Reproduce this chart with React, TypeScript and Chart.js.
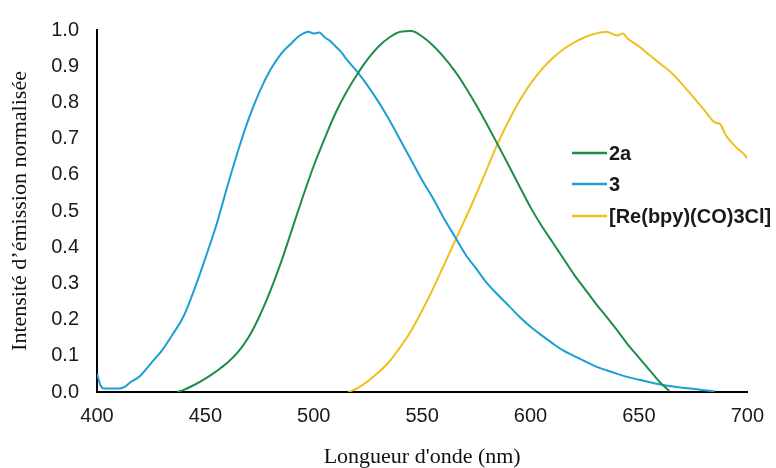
import React, { useEffect, useRef } from "react";
import { Chart, registerables } from "chart.js";

Chart.register(...registerables);

// Series "3" (blue)
const wave3 = [400, 401.5, 403, 405, 410, 413, 415, 420, 425, 430, 435, 440, 445, 450, 455, 460, 465, 470, 475, 480, 485, 490, 492.5, 495, 497.5, 500, 502.5, 505, 507.5, 510, 512.5, 515, 520, 525, 530, 535, 540, 545, 550, 555, 560, 565, 570, 575, 580, 585, 590, 595, 600, 605, 610, 615, 620, 625, 630, 635, 640, 645, 650, 655, 660, 665, 670, 675, 680, 685];
const val3 = [0.05, 0.02, 0.01, 0.01, 0.01, 0.015, 0.025, 0.045, 0.08, 0.115, 0.16, 0.21, 0.285, 0.37, 0.46, 0.565, 0.665, 0.755, 0.83, 0.89, 0.935, 0.965, 0.98, 0.99, 0.995, 0.99, 0.993, 0.98, 0.97, 0.955, 0.94, 0.92, 0.885, 0.845, 0.8, 0.75, 0.695, 0.64, 0.585, 0.535, 0.48, 0.43, 0.38, 0.34, 0.3, 0.268, 0.238, 0.207, 0.18, 0.157, 0.135, 0.115, 0.1, 0.085, 0.071, 0.06, 0.05, 0.041, 0.034, 0.027, 0.021, 0.016, 0.012, 0.009, 0.005, 0.002];

// Series "2a" (green)
const wave2a = [437, 440, 445, 450, 455, 460, 465, 470, 475, 480, 485, 490, 495, 500, 505, 510, 515, 520, 525, 530, 535, 540, 545, 550, 555, 560, 565, 570, 575, 580, 585, 590, 595, 600, 605, 610, 615, 620, 625, 630, 635, 640, 645, 650, 655, 660, 664];
const val2a = [0, 0.006, 0.02, 0.037, 0.057, 0.08, 0.11, 0.152, 0.21, 0.28, 0.36, 0.45, 0.54, 0.625, 0.7, 0.77, 0.828, 0.877, 0.92, 0.955, 0.98, 0.995, 0.997, 0.982, 0.957, 0.925, 0.887, 0.842, 0.792, 0.738, 0.682, 0.625, 0.567, 0.51, 0.46, 0.415, 0.37, 0.325, 0.285, 0.245, 0.208, 0.17, 0.13, 0.095, 0.06, 0.025, 0.003];

// Series "[Re(bpy)(CO)3Cl]" (yellow)
const waveRe = [516, 520, 525, 530, 535, 540, 545, 550, 555, 560, 565, 570, 575, 580, 585, 590, 595, 600, 605, 610, 615, 620, 625, 630, 635, 640, 642.5, 645, 650, 655, 660, 665, 670, 675, 680, 685, 687.5, 690, 695, 700, 701];
const valRe = [0, 0.01, 0.03, 0.055, 0.085, 0.125, 0.17, 0.225, 0.285, 0.35, 0.415, 0.48, 0.547, 0.618, 0.688, 0.75, 0.805, 0.852, 0.89, 0.921, 0.946, 0.965, 0.98, 0.99, 0.995, 0.985, 0.99, 0.975, 0.955, 0.93, 0.906, 0.882, 0.85, 0.815, 0.78, 0.745, 0.74, 0.71, 0.675, 0.645, 0.63];

const seriesLabels = ["2a", "3", "[Re(bpy)(CO)3Cl]"];
const seriesColors = ["#1f8c48", "#1c9fd2", "#f0bf1e"];

const xTitle = "Longueur d'onde (nm)";
const yTitle = "Intensité d’émission normalisée";

const toPoints = (xs: number[], ys: number[]) => xs.map((x, i) => ({ x, y: ys[i] }));

const legendPlugin = {
  id: "customLegend",
  afterDraw(chart: any) {
    const ctx = chart.ctx;
    ctx.save();
    const rows = [153, 184, 216];
    chart.data.datasets.forEach((ds: any, i: number) => {
      const y = rows[i];
      ctx.strokeStyle = ds.borderColor;
      ctx.lineWidth = 2.5;
      ctx.beginPath();
      ctx.moveTo(572, y);
      ctx.lineTo(607, y);
      ctx.stroke();
      ctx.fillStyle = "#1a1a1a";
      ctx.font = "bold 20px 'Liberation Sans', Arial, sans-serif";
      ctx.textAlign = "left";
      ctx.textBaseline = "middle";
      ctx.fillText(ds.label, 609, y + 1);
    });
    ctx.restore();
  },
};

export default function App() {
  const ref = useRef<HTMLCanvasElement>(null);
  useEffect(() => {
    if (!ref.current) return;
    const chart = new Chart(ref.current, {
      type: "line",
      data: {
        datasets: [
          { label: seriesLabels[0], data: toPoints(wave2a, val2a), borderColor: seriesColors[0] },
          { label: seriesLabels[1], data: toPoints(wave3, val3), borderColor: seriesColors[1] },
          { label: seriesLabels[2], data: toPoints(waveRe, valRe), borderColor: seriesColors[2] },
        ].map((d) => ({ ...d, borderWidth: 2, pointRadius: 0, fill: false, cubicInterpolationMode: "monotone" as const })),
      },
      options: {
        responsive: false,
        animation: false,
        layout: { padding: { left: 0, top: 25, right: 27, bottom: 0 } },
        plugins: { legend: { display: false }, tooltip: { enabled: false } },
        scales: {
          x: {
            type: "linear",
            min: 400,
            max: 700,
            afterFit: (s: any) => { s.height = 76; },
            grid: { display: false, drawTicks: false },
            border: { display: true, color: "#000", width: 2 },
            ticks: { stepSize: 50, padding: 12, color: "#1a1a1a", font: { family: "'Liberation Sans', Arial, sans-serif", size: 20 } },
            title: { display: true, text: xTitle, color: "#111", padding: { top: 0, bottom: 0 }, font: { family: "'Liberation Serif', 'Times New Roman', serif", size: 22, lineHeight: 1 } },
          },
          y: {
            min: 0,
            max: 1,
            afterFit: (s: any) => { s.width = 97; },
            grid: { display: false, drawTicks: false },
            border: { display: true, color: "#000", width: 2 },
            ticks: { stepSize: 0.1, padding: 18, color: "#1a1a1a", callback: (v: any) => Number(v).toFixed(1), font: { family: "'Liberation Sans', Arial, sans-serif", size: 20 } },
            title: { display: true, text: yTitle, color: "#111", padding: { top: 9, bottom: 0 }, font: { family: "'Liberation Serif', 'Times New Roman', serif", size: 22, lineHeight: 1 } },
          },
        },
      },
      plugins: [legendPlugin],
    });
    return () => chart.destroy();
  }, []);
  return (
    <div style={{ position: "fixed", left: 0, top: 0, width: 776, height: 468, background: "#fff" }}>
      <canvas ref={ref} width={776} height={468} />
    </div>
  );
}
